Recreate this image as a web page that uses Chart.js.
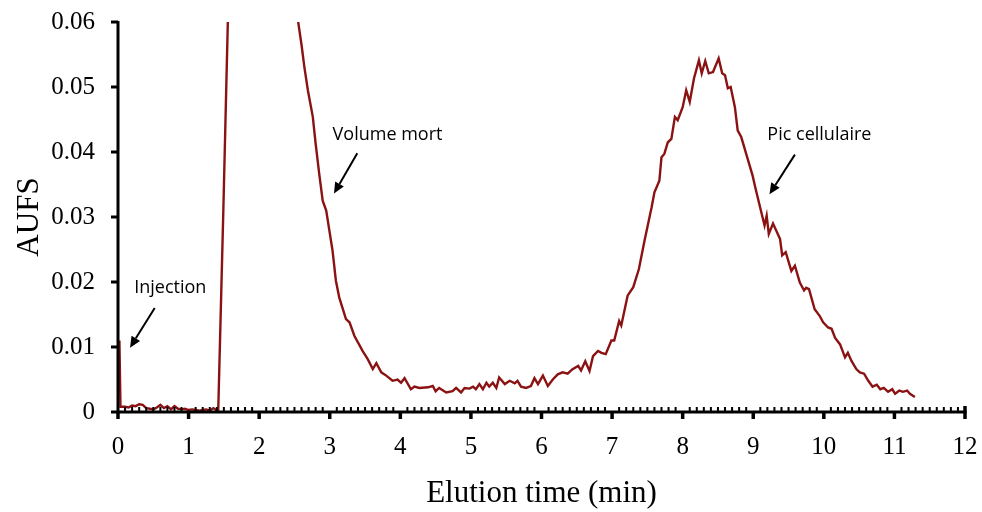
<!DOCTYPE html>
<html>
<head>
<meta charset="utf-8">
<script src="https://cdn.jsdelivr.net/npm/chart.js@4.4.0/dist/chart.umd.min.js"></script>
<style>
  html, body { margin: 0; padding: 0; background: #fff; }
  #wrap { width: 982px; height: 512px; }
</style>
</head>
<body>
<div id="wrap"><canvas id="c" width="982" height="512"></canvas></div>
<script>
// ---- data ----
const elutionTime = [
  0, 0.02, 0.035, 0.1, 0.15, 0.2, 0.25, 0.3, 0.35, 0.4, 0.45, 0.5, 0.55, 0.6, 0.65, 0.7, 0.75, 0.8, 0.85, 0.9, 0.95,
  1.0, 1.05, 1.1, 1.15, 1.2, 1.25, 1.3, 1.35, 1.38, 1.42, 1.49, 1.556, 1.62, 1.8, 2.0, 2.2, 2.45, 2.553, 2.6,
  2.64, 2.69, 2.76, 2.8, 2.85, 2.9, 2.95, 3.04, 3.087, 3.135, 3.23, 3.28, 3.35, 3.465, 3.54, 3.61, 3.66, 3.73,
  3.8, 3.89, 3.96, 4.01, 4.06, 4.15, 4.2, 4.27, 4.39, 4.46, 4.5, 4.55, 4.65, 4.74, 4.79, 4.86, 4.91, 4.98,
  5.03, 5.07, 5.12, 5.17, 5.22, 5.26, 5.31, 5.36, 5.4, 5.48, 5.55, 5.62, 5.66, 5.71, 5.78, 5.85, 5.9, 5.95,
  6.02, 6.09, 6.16, 6.23, 6.3, 6.37, 6.44, 6.52, 6.56, 6.62, 6.68, 6.73, 6.8, 6.85, 6.91, 6.99, 7.03, 7.1,
  7.13, 7.22, 7.3, 7.38, 7.46, 7.56, 7.6, 7.67, 7.7, 7.74, 7.79, 7.84, 7.89, 7.93, 8.0, 8.05, 8.1, 8.16,
  8.23, 8.27, 8.32, 8.37, 8.43, 8.51, 8.56, 8.6, 8.64, 8.68, 8.74, 8.78, 8.83, 8.9, 8.99, 9.03, 9.09, 9.16,
  9.19, 9.22, 9.28, 9.38, 9.41, 9.46, 9.54, 9.59, 9.66, 9.72, 9.75, 9.79, 9.87, 9.94, 9.99, 10.06, 10.11,
  10.16, 10.23, 10.3, 10.34, 10.39, 10.46, 10.51, 10.57, 10.63, 10.69, 10.75, 10.8, 10.85, 10.91, 10.97,
  11.01, 11.07, 11.12, 11.18, 11.22, 11.29
];
const aufs = [
  0.004, 0.011, 0.0008, 0.0008, 0.0007, 0.001, 0.0009, 0.0012, 0.0011, 0.0006, 0.0005, 0.0004, 0.0007, 0.0011, 0.0006, 0.0009, 0.0004, 0.0009, 0.0005, 0.0004, 0.0005,
  0.0003, 0.0004, 0.0003, 0.0002, 0.0003, 0.0004, 0.0002, 0.0006, 0.0004, 0.0001, 0.03, 0.06, 0.085, 0.13, 0.15, 0.13, 0.075, 0.06, 0.0565,
  0.0531, 0.0495, 0.0454, 0.0413, 0.0367, 0.0325, 0.031, 0.0248, 0.0202, 0.0176, 0.0143, 0.0138, 0.0117, 0.0094, 0.0081, 0.0066, 0.0075, 0.0061,
  0.0056, 0.0048, 0.005, 0.0045, 0.0052, 0.0035, 0.0039, 0.0037, 0.0038, 0.004, 0.0032, 0.0037, 0.003, 0.0032, 0.0037, 0.003, 0.0037, 0.0036,
  0.0039, 0.0035, 0.0043, 0.0035, 0.0045, 0.0039, 0.0045, 0.0037, 0.0053, 0.0043, 0.0048, 0.0044, 0.0048, 0.0039, 0.0037, 0.004, 0.0052, 0.0043,
  0.0056, 0.004, 0.005, 0.0058, 0.0061, 0.0059, 0.0066, 0.0071, 0.0064, 0.0078, 0.0063, 0.0086, 0.0094, 0.0091, 0.0089, 0.011, 0.011, 0.014,
  0.0133, 0.0179, 0.0192, 0.022, 0.0264, 0.0315, 0.0338, 0.0356, 0.0392, 0.0397, 0.0415, 0.042, 0.0454, 0.0449, 0.0469, 0.0495, 0.0477, 0.0513,
  0.0541, 0.0521, 0.054, 0.0521, 0.0523, 0.0544, 0.0521, 0.0518, 0.0498, 0.05, 0.0469, 0.0433, 0.0423, 0.0397, 0.0364, 0.0345, 0.0318, 0.0287,
  0.0302, 0.0274, 0.029, 0.0266, 0.0241, 0.0246, 0.0217, 0.0225, 0.0199, 0.0187, 0.0191, 0.0189, 0.0158, 0.0148, 0.0138, 0.013, 0.0128,
  0.0114, 0.0104, 0.0084, 0.0091, 0.0079, 0.0066, 0.0061, 0.0059, 0.0048, 0.0039, 0.0042, 0.0035, 0.0037, 0.0031, 0.0035,
  0.0028, 0.0033, 0.0031, 0.0033, 0.0028, 0.0023
];
const xTickValues = [0, 1, 2, 3, 4, 5, 6, 7, 8, 9, 10, 11, 12];
const xMinorStep = 0.1;
const yTickValues = [0, 0.01, 0.02, 0.03, 0.04, 0.05, 0.06];
const yTickLabels = ['0', '0.01', '0.02', '0.03', '0.04', '0.05', '0.06'];
const xAxisTitle = 'Elution time (min)';
const yAxisTitle = 'AUFS';
// annotations: label text, label position (x, y), arrow start and arrow tip, in data units
const noteLabels = ['Injection', 'Volume mort', 'Pic cellulaire'];
const noteTextAt = [[0.23, 0.0191], [3.04, 0.0427], [9.2, 0.0427]];
const noteArrowFrom = [[0.52, 0.0160], [3.39, 0.0398], [9.59, 0.0396]];
const noteArrowTo = [[0.17, 0.0099], [3.06, 0.0336], [9.23, 0.0335]];

const points = elutionTime.map((t, i) => ({ x: t, y: aufs[i] }));
const serif = 'Liberation Serif, Times New Roman, serif';

const axesPlugin = {
  id: 'axesPlugin',
  afterDatasetsDraw(chart) {
    const ctx = chart.ctx;
    const xs = chart.scales.x, ys = chart.scales.y;
    const x0 = xs.getPixelForValue(0), x1 = xs.getPixelForValue(12);
    const y0 = ys.getPixelForValue(0), y1 = ys.getPixelForValue(0.06);
    ctx.save();
    ctx.strokeStyle = '#000';
    ctx.lineCap = 'butt';
    // minor ticks on x (inward)
    ctx.lineWidth = 2;
    for (let k = 1; k < 120; k++) {
      if (k % 10 === 0) continue;
      const px = xs.getPixelForValue(k * xMinorStep);
      ctx.beginPath(); ctx.moveTo(px, y0); ctx.lineTo(px, y0 - 5); ctx.stroke();
    }
    // axis lines
    ctx.lineWidth = 3;
    ctx.beginPath(); ctx.moveTo(x0, y1 - 1); ctx.lineTo(x0, y0 + 1.5); ctx.stroke();
    ctx.beginPath(); ctx.moveTo(x0 - 1.5, y0); ctx.lineTo(x1 + 1.5, y0); ctx.stroke();
    // major ticks on x (outward)
    ctx.lineWidth = 3.5;
    xTickValues.forEach(v => {
      const px = xs.getPixelForValue(v);
      ctx.beginPath(); ctx.moveTo(px, y0); ctx.lineTo(px, y0 + 7); ctx.stroke();
    });
    ctx.beginPath(); ctx.moveTo(x1, y0); ctx.lineTo(x1, y0 - 6); ctx.stroke();
    // major ticks on y (outward)
    ctx.lineWidth = 3;
    yTickValues.forEach(v => {
      const py = ys.getPixelForValue(v);
      ctx.beginPath(); ctx.moveTo(x0, py); ctx.lineTo(x0 - 7, py); ctx.stroke();
    });
    // annotations
    ctx.fillStyle = '#000';
    ctx.font = '18px "Open Sans", "Noto Sans", sans-serif';
    ctx.textAlign = 'left';
    ctx.textBaseline = 'middle';
    noteLabels.forEach((txt, i) => {
      ctx.fillText(txt, xs.getPixelForValue(noteTextAt[i][0]), ys.getPixelForValue(noteTextAt[i][1]));
      const ax = xs.getPixelForValue(noteArrowFrom[i][0]), ay = ys.getPixelForValue(noteArrowFrom[i][1]);
      const bx = xs.getPixelForValue(noteArrowTo[i][0]), by = ys.getPixelForValue(noteArrowTo[i][1]);
      const ang = Math.atan2(by - ay, bx - ax);
      const hl = 11, hw = 5;
      const sx = bx - hl * Math.cos(ang), sy = by - hl * Math.sin(ang);
      ctx.lineWidth = 2;
      ctx.beginPath(); ctx.moveTo(ax, ay); ctx.lineTo(sx, sy); ctx.stroke();
      ctx.beginPath();
      ctx.moveTo(bx, by);
      ctx.lineTo(sx + hw * Math.sin(ang), sy - hw * Math.cos(ang));
      ctx.lineTo(sx - hw * Math.sin(ang), sy + hw * Math.cos(ang));
      ctx.closePath(); ctx.fill();
    });
    ctx.restore();
  }
};

new Chart(document.getElementById('c'), {
  type: 'line',
  data: {
    datasets: [{
      data: points,
      borderColor: '#8B1212',
      borderWidth: 2.4,
      pointRadius: 0,
      tension: 0,
      fill: false
    }]
  },
  options: {
    responsive: false,
    animation: false,
    events: [],
    layout: { autoPadding: false, padding: { top: 22, right: 17, left: 0, bottom: 0 } },
    plugins: { legend: { display: false }, tooltip: { enabled: false } },
    scales: {
      x: {
        type: 'linear', min: 0, max: 12,
        afterBuildTicks: s => { s.ticks = xTickValues.map(v => ({ value: v })); },
        afterFit: s => { s.height = 100; s.paddingLeft = 0; s.paddingRight = 0; },
        grid: { display: false, drawTicks: false },
        border: { display: false },
        ticks: { color: '#000', font: { family: serif, size: 25 }, padding: 20, maxRotation: 0, autoSkip: false,
                 callback: v => String(v) },
        title: { display: true, text: xAxisTitle, color: '#000', font: { family: serif, size: 31 }, padding: { top: 0, bottom: 0 } }
      },
      y: {
        type: 'linear', min: 0, max: 0.06,
        afterBuildTicks: s => { s.ticks = yTickValues.map(v => ({ value: v })); },
        afterFit: s => { s.width = 118; s.paddingTop = 0; s.paddingBottom = 0; },
        grid: { display: false, drawTicks: false },
        border: { display: false },
        ticks: { color: '#000', font: { family: serif, size: 25 }, padding: 23,
                 callback: (v) => yTickLabels[yTickValues.findIndex(t => Math.abs(t - v) < 1e-9)] },
        title: { display: true, text: yAxisTitle, color: '#000', font: { family: serif, size: 31 }, padding: { top: 11, bottom: 0 } }
      }
    }
  },
  plugins: [axesPlugin]
});
</script>
</body>
</html>
